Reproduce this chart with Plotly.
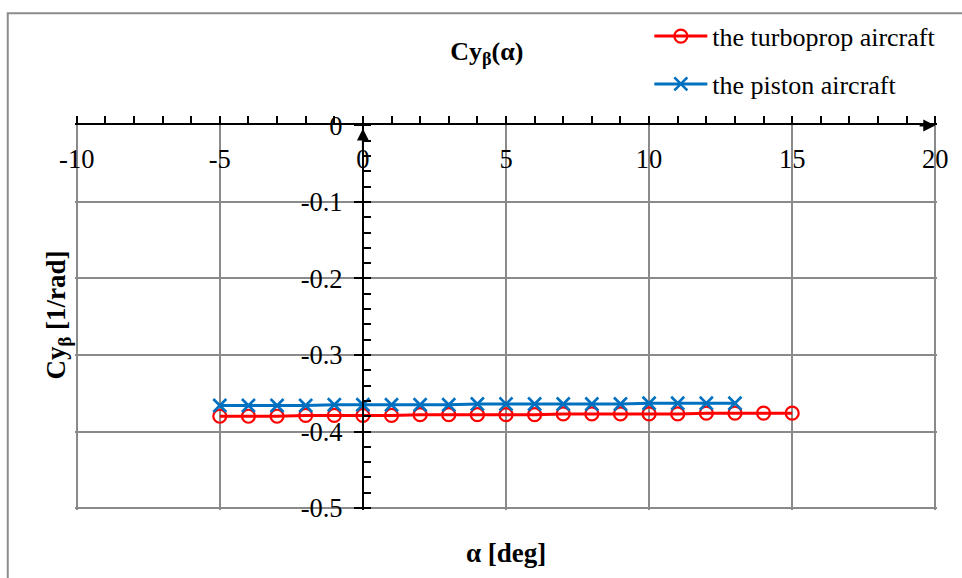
import plotly.graph_objects as go

# Angle of attack samples [deg]
alpha_turboprop = list(range(-5, 16))
alpha_piston = list(range(-5, 14))

# Side-force derivative Cy_beta [1/rad]
cyb_turboprop = [-0.380, -0.380, -0.380, -0.379, -0.379, -0.379, -0.379,
                 -0.378, -0.378, -0.378, -0.378, -0.378, -0.377, -0.377,
                 -0.377, -0.377, -0.377, -0.376, -0.376, -0.376, -0.376]
cyb_piston = [-0.366, -0.366, -0.366, -0.366, -0.365, -0.365, -0.365,
              -0.365, -0.365, -0.364, -0.364, -0.364, -0.364, -0.364,
              -0.364, -0.363, -0.363, -0.363, -0.363]

x_ticks = [-10, -5, 0, 5, 10, 15, 20]
x_ticklabels = ["-10", "-5", "0", "5", "10", "15", "20"]
y_ticks = [0, -0.1, -0.2, -0.3, -0.4, -0.5]
y_ticklabels = ["0", "-0.1", "-0.2", "-0.3", "-0.4", "-0.5"]

# Small padding keeps the end grid lines and end labels from being clipped
X_RANGE = [-10.06, 20.06]
Y_RANGE = [-0.5025, 0.0005]

SERIF = "Liberation Serif, Times New Roman, serif"
GRID = "#8a8a8a"
TICK_SIZE = 26.5

fig = go.Figure()

fig.add_trace(go.Scatter(
    x=alpha_turboprop, y=cyb_turboprop, mode="lines+markers",
    name="the turboprop aircraft", legendgroup="a",
    line=dict(color="#ff0000", width=3),
    marker=dict(symbol="circle-open", size=13, color="#ff0000",
                line=dict(width=2.2, color="#ff0000")),
))
fig.add_trace(go.Scatter(
    x=alpha_piston, y=cyb_piston, mode="lines+markers",
    name="the piston aircraft", legendgroup="b",
    line=dict(color="#0070c0", width=3),
    marker=dict(symbol="x-thin-open", size=13, color="#0070c0",
                line=dict(width=2.6, color="#0070c0")),
))
# Empty trace that registers the label axis x2
fig.add_trace(go.Scatter(
    x=x_ticks, y=[None] * len(x_ticks), xaxis="x2", yaxis="y",
    mode="markers", showlegend=False, hoverinfo="skip",
))

fig.update_layout(
    width=962, height=578,
    margin=dict(l=75, r=25, t=125, b=68, autoexpand=False),
    paper_bgcolor="white", plot_bgcolor="white",
    font=dict(family=SERIF, size=25, color="black"),
    title=dict(text="<b>Cy<sub>β</sub>(α)</b>", x=0.506, xref="container",
               xanchor="center", y=0.912, yref="container", yanchor="middle",
               font=dict(family=SERIF, size=26, color="black")),
    showlegend=True,
    legend=dict(xref="container", yref="container", x=0.675, y=0.978,
                xanchor="left", yanchor="top", traceorder="grouped",
                tracegroupgap=11, itemwidth=53, bgcolor="rgba(0,0,0,0)",
                font=dict(family=SERIF, size=26, color="black")),
    # Axis line, ticks and vertical grid (line sits at Cy = 0)
    xaxis=dict(
        range=X_RANGE, side="top", tickvals=x_ticks, showticklabels=False,
        ticks="outside", ticklen=7, tickwidth=2, tickcolor="black",
        showline=True, linecolor="black", linewidth=2,
        showgrid=True, gridcolor=GRID, gridwidth=2, zeroline=False,
        minor=dict(dtick=1, ticks="outside", ticklen=7, tickwidth=2,
                   tickcolor="black", showgrid=False),
        fixedrange=True,
    ),
    # Tick labels hanging just below the horizontal axis
    xaxis2=dict(
        range=X_RANGE, overlaying="x", anchor="free", position=1, side="bottom",
        tickvals=x_ticks, ticktext=x_ticklabels, ticks="", ticklabelstandoff=15,
        showline=False, showgrid=False, zeroline=False,
        tickfont=dict(family=SERIF, size=TICK_SIZE, color="black"),
        fixedrange=True,
    ),
    yaxis=dict(
        range=Y_RANGE, anchor="free",
        position=(0 - X_RANGE[0]) / (X_RANGE[1] - X_RANGE[0]),
        tickvals=y_ticks, ticktext=y_ticklabels,
        ticks="outside", ticklen=8, tickwidth=2, tickcolor="black",
        ticklabelstandoff=6,
        showline=True, linecolor="black", linewidth=2,
        showgrid=True, gridcolor=GRID, gridwidth=2, zeroline=False,
        minor=dict(dtick=0.02, ticks="inside", ticklen=7, tickwidth=2,
                   tickcolor="black", showgrid=False),
        tickfont=dict(family=SERIF, size=TICK_SIZE, color="black"),
        fixedrange=True,
    ),
)

# Axis titles
fig.add_annotation(text="<b>Cy<sub>β</sub> [1/rad]</b>", xref="paper", yref="paper",
                   x=-0.0197, y=0.505, xanchor="center", yanchor="middle",
                   textangle=-90, showarrow=False,
                   font=dict(family=SERIF, size=27, color="black"))
fig.add_annotation(text="<b>α [deg]</b>", xref="paper", yref="paper",
                   x=0.5, y=-0.112, xanchor="center", yanchor="middle",
                   showarrow=False,
                   font=dict(family=SERIF, size=27, color="black"))

# Arrowheads at the ends of both axes
fig.add_annotation(x=20, y=0, ax=19.4, ay=0, xref="x", yref="y", axref="x", ayref="y",
                   text="", showarrow=True, arrowhead=2, arrowsize=1.2,
                   arrowwidth=2, arrowcolor="black", standoff=0)
fig.add_annotation(x=0, y=-0.004, ax=0, ay=-0.04, xref="x", yref="y", axref="x", ayref="y",
                   text="", showarrow=True, arrowhead=2, arrowsize=1.2,
                   arrowwidth=2, arrowcolor="black", standoff=0)

# Chart area frame
fig.add_shape(type="rect", xref="paper", yref="paper",
              x0=-0.078, x1=1.3, y0=-0.5, y1=1.29,
              line=dict(color="#8c8c8c", width=2), layer="below")

fig.write_html("out.html")
